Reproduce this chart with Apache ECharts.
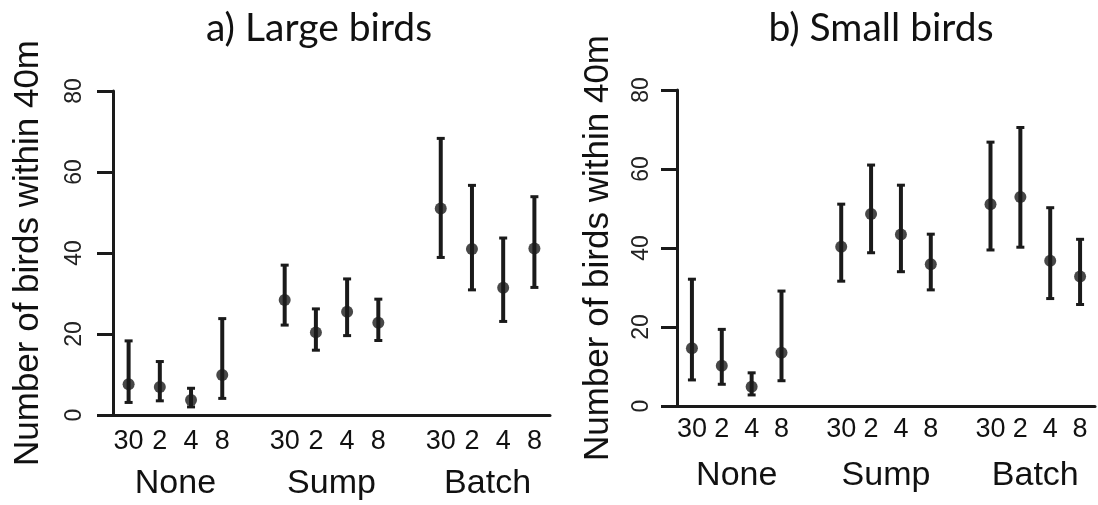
<!DOCTYPE html>
<html>
<head>
<meta charset="utf-8">
<script src="https://cdn.jsdelivr.net/npm/echarts@6/dist/echarts.min.js"></script>
<style>
html,body{margin:0;padding:0;background:#fff;}
#chart{width:1098px;height:505px;}
</style>
</head>
<body>
<div id="chart"></div>
<script>
// ---- data ----
const ticks = ['30', '2', '4', '8'];
const groups = ['None', 'Sump', 'Batch'];
const yMin = 0, yMax = 80, yStep = 20;
const yTitle = 'Number of birds within 40m';
const titleA = 'a) Large birds';
const titleB = 'b) Small birds';

const largeMean = [7.6, 6.9, 3.7, 9.9, 28.4, 20.4, 25.5, 22.8, 51.0, 41.0, 31.4, 41.1];
const largeLow  = [3.1, 3.5, 2.0, 4.1, 22.2, 16.0, 19.6, 18.4, 38.9, 30.9, 23.1, 31.5];
const largeHigh = [18.3, 13.2, 6.6, 23.8, 37.0, 26.2, 33.6, 28.6, 68.3, 56.7, 43.7, 53.9];

const smallMean = [14.6, 10.2, 4.9, 13.5, 40.3, 48.6, 43.4, 35.9, 51.1, 52.9, 36.8, 32.8];
const smallLow  = [6.6, 5.5, 2.8, 6.4, 31.6, 38.8, 34.0, 29.4, 39.5, 40.2, 27.2, 25.7];
const smallHigh = [32.1, 19.4, 8.4, 29.1, 51.1, 61.0, 55.9, 43.5, 66.8, 70.5, 50.2, 42.2];

// ---- build categories (each group + one empty gap slot) ----
const categories = [];
const slotIndex = [];
groups.forEach((g, gi) => {
  ticks.forEach(t => { slotIndex.push(categories.length); categories.push(t); });
  if (gi < groups.length - 1) categories.push('');
});
const groupSize = ticks.length + 1;
const groupCenter = gi => gi * groupSize + ticks.length / 2;

const INK = '#1a1a1a';
const FONT = 'Liberation Sans, Arial, sans-serif';

function errData(low, high) { return low.map((v, i) => [slotIndex[i], v, high[i]]); }
function meanData(mean) { return mean.map((v, i) => [slotIndex[i], v]); }

function renderErr(params, api) {
  const x = api.value(0);
  const lo = api.coord([x, api.value(1)]);
  const hi = api.coord([x, api.value(2)]);
  const cw = 4;
  return {
    type: 'group',
    children: [
      { type: 'line', shape: { x1: lo[0], y1: lo[1], x2: hi[0], y2: hi[1] }, style: { stroke: INK, lineWidth: 4 } },
      { type: 'line', shape: { x1: hi[0] - cw, y1: hi[1], x2: hi[0] + cw, y2: hi[1] }, style: { stroke: INK, lineWidth: 3 } },
      { type: 'line', shape: { x1: lo[0] - cw, y1: lo[1], x2: lo[0] + cw, y2: lo[1] }, style: { stroke: INK, lineWidth: 3 } }
    ]
  };
}

function catAxis(gridIndex, margin) {
  return {
    type: 'category', gridIndex, data: categories, boundaryGap: true,
    axisLine: { show: true, lineStyle: { color: INK, width: 3 } },
    axisTick: { show: false },
    axisLabel: { interval: 0, color: '#111', fontFamily: FONT, fontSize: 27, margin }
  };
}
function groupAxis(gridIndex, margin) {
  return {
    type: 'value', gridIndex, position: 'bottom', min: 0, max: categories.length, interval: 1,
    axisLine: { show: false }, axisTick: { show: false }, splitLine: { show: false },
    axisLabel: {
      color: '#111', fontFamily: FONT, fontSize: 34, margin,
      showMinLabel: true, showMaxLabel: true, hideOverlap: false,
      formatter: v => {
        for (let gi = 0; gi < groups.length; gi++) if (Math.abs(groupCenter(gi) - v) < 1e-6) return groups[gi];
        return '';
      }
    }
  };
}
function valAxis(gridIndex, labelMargin, nameGap) {
  return {
    type: 'value', gridIndex, min: yMin, max: yMax, interval: yStep,
    name: yTitle, nameLocation: 'middle', nameRotate: 90, nameGap,
    nameTextStyle: { color: '#111', fontFamily: FONT, fontSize: 35 },
    axisLine: { show: true, lineStyle: { color: INK, width: 3 } },
    axisTick: { show: true, length: 16, lineStyle: { color: INK, width: 3 } },
    splitLine: { show: false },
    axisLabel: { rotate: 90, color: '#222', fontFamily: FONT, fontSize: 23, margin: labelMargin }
  };
}

const chart = echarts.init(document.getElementById('chart'), null, { renderer: 'canvas' });
chart.setOption({
  backgroundColor: '#fff',
  animation: false,
  graphic: [
    { type: 'text', x: 319, y: 28, style: { text: titleA, font: '39px Lato', fill: '#111', textAlign: 'center', textVerticalAlign: 'middle' } },
    { type: 'text', x: 881, y: 28, style: { text: titleB, font: '39px Lato', fill: '#111', textAlign: 'center', textVerticalAlign: 'middle' } }
  ],
  grid: [
    { left: 113, top: 91, width: 437, height: 324 },
    { left: 677, top: 90, width: 428, height: 316 }
  ],
  xAxis: [catAxis(0, 13), groupAxis(0, 52), catAxis(1, 10), groupAxis(1, 53)],
  yAxis: [valAxis(0, 27, 67), valAxis(1, 24, 61)],
  series: [
    { type: 'custom', xAxisIndex: 0, yAxisIndex: 0, renderItem: renderErr, data: errData(largeLow, largeHigh), encode: { x: 0, y: [1, 2] }, z: 2 },
    { type: 'scatter', xAxisIndex: 0, yAxisIndex: 0, data: meanData(largeMean), symbol: 'circle', symbolSize: 12, itemStyle: { color: INK }, z: 3 },
    { type: 'custom', xAxisIndex: 2, yAxisIndex: 1, renderItem: renderErr, data: errData(smallLow, smallHigh), encode: { x: 0, y: [1, 2] }, z: 2 },
    { type: 'scatter', xAxisIndex: 2, yAxisIndex: 1, data: meanData(smallMean), symbol: 'circle', symbolSize: 12, itemStyle: { color: INK }, z: 3 }
  ]
});
</script>
</body>
</html>
